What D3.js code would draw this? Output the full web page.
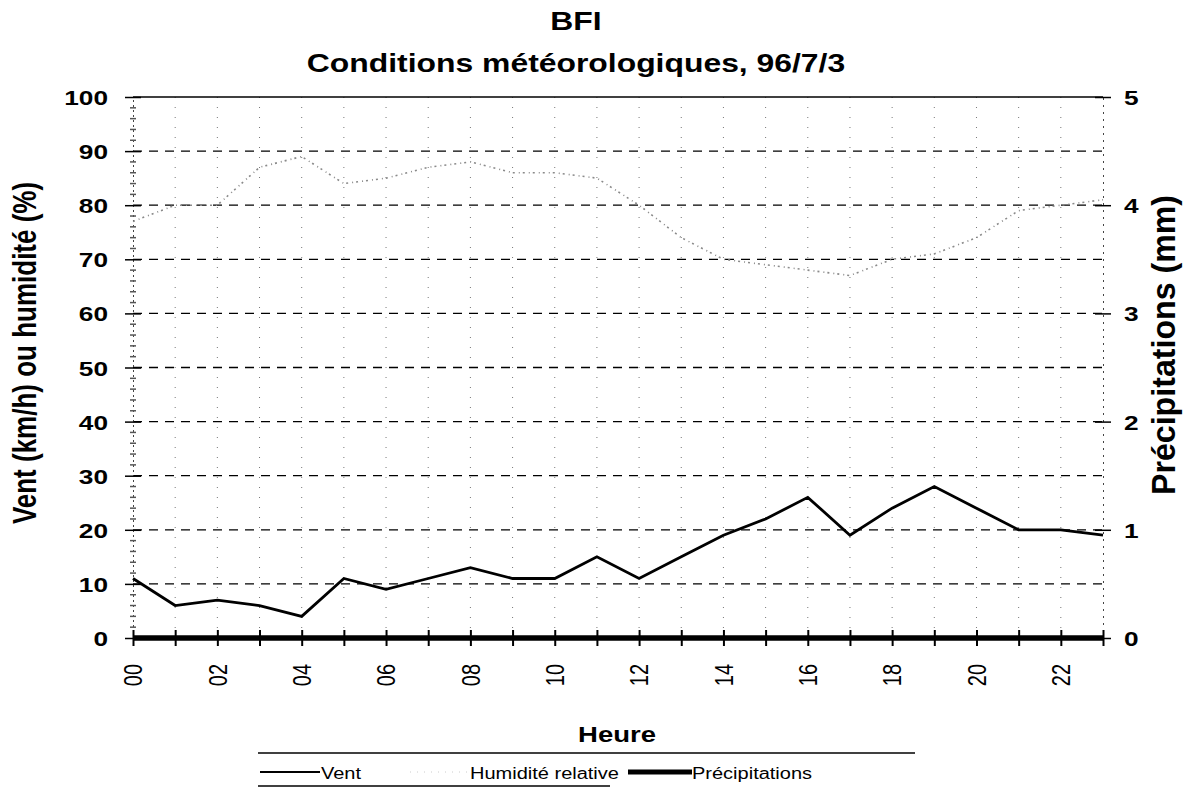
<!DOCTYPE html>
<html><head><meta charset="utf-8">
<script src="https://cdn.jsdelivr.net/npm/d3@7"></script>
<style>body{margin:0;background:#fff}svg{display:block;font-family:"Liberation Sans",Arial,sans-serif}</style>
</head><body><svg id="c" width="1192" height="787"></svg>
<script>
const hours = d3.range(0,24);
const hourLabels = ["00","02","04","06","08","10","12","14","16","18","20","22"];
const vent = [11,6,7,6,4,11,9,11,13,11,11,15,11,15,19,22,26,19,24,28,24,20,20,19];
const humidite = [77,80,80,87,89,84,85,87,88,86,86,85,80,74,70,69,68,67,70,71,74,79,80,81];
const precip = [0,0,0,0,0,0,0,0,0,0,0,0,0,0,0,0,0,0,0,0,0,0,0,0];
const leftTicks = [0,10,20,30,40,50,60,70,80,90,100];
const rightTicks = [0,1,2,3,4,5];

const SX = 1.25; // horizontal stretch of the scanned original
const svg = d3.select("#c");
const L=133,R=1103,T=97,B=638;
const x = d3.scaleLinear().domain([0,23]).range([L,R]);
const y = d3.scaleLinear().domain([0,100]).range([B,T]);
const y2 = d3.scaleLinear().domain([0,5]).range([B,T]);

function txt(g,px,py,str,size,opts={}){
  const t = g.append("text")
    .attr("transform",`translate(${px},${py}) scale(${SX},1)` + (opts.rot?` rotate(${opts.rot})`:""))
    .attr("font-size",size).attr("text-anchor",opts.anchor||"middle")
    .attr("font-weight",opts.bold===false?"normal":"bold").attr("fill","#000").text(str);
  if(opts.dy) t.attr("dy",opts.dy);
  if(opts.len) t.attr("textLength",opts.len).attr("lengthAdjust","spacingAndGlyphs");
  return t;
}

// vertical dotted grid
svg.append("g").selectAll("line").data(hours.slice(1,23)).join("line")
  .attr("x1",d=>x(d)).attr("x2",d=>x(d)).attr("y1",T).attr("y2",B)
  .attr("stroke","#777").attr("stroke-width",1).attr("stroke-dasharray","1,9");
// horizontal dashed grid
svg.append("g").selectAll("line").data(leftTicks.filter(d=>d>0&&d<100)).join("line")
  .attr("x1",L).attr("x2",R).attr("y1",d=>y(d)).attr("y2",d=>y(d))
  .attr("stroke","#000").attr("stroke-width",1.3).attr("stroke-dasharray","9,7");
// top line
svg.append("line").attr("x1",L).attr("x2",R).attr("y1",T).attr("y2",T).attr("stroke","#000").attr("stroke-width",1.6);

// left axis
const la = svg.append("g").attr("transform",`translate(${L},0)`)
  .call(d3.axisLeft(y).tickValues(leftTicks).tickSize(8).tickFormat(""));
la.select(".domain").attr("stroke","#444").attr("stroke-dasharray","2,3");
la.selectAll(".tick line").attr("x2",-8).attr("x1",8).attr("stroke-width",1.5);
la.selectAll(".tick").each(function(d){ txt(d3.select(this),-25,0,String(d),21,{anchor:"end",dy:"0.36em"}); });
// minor ticks
svg.append("g").selectAll("line").data(d3.range(2,100,2).filter(d=>d%10)).join("line")
  .attr("x1",L-3).attr("x2",L+3).attr("y1",d=>y(d)).attr("y2",d=>y(d)).attr("stroke","#555").attr("stroke-width",1.5);

// right axis
const ra = svg.append("g").attr("transform",`translate(${R},0)`)
  .call(d3.axisRight(y2).tickValues(rightTicks).tickSize(8).tickFormat(""));
ra.select(".domain").attr("stroke","#444").attr("stroke-dasharray","2,5");
ra.selectAll(".tick line").attr("x1",-8).attr("x2",8).attr("stroke-width",1.5);
ra.selectAll(".tick").each(function(d){ txt(d3.select(this),21,0,String(d),21,{anchor:"start",dy:"0.36em"}); });

// x axis
const xa = svg.append("g").attr("transform",`translate(0,${B})`)
  .call(d3.axisBottom(x).tickValues(hours).tickSize(8).tickFormat(""));
xa.select(".domain").remove();
xa.selectAll(".tick line").attr("y1",-8).attr("y2",8).attr("stroke-width",2);
xa.selectAll(".tick").each(function(d){
  if(d%2===0) txt(d3.select(this),0,26,hourLabels[d/2],20,{rot:-90,anchor:"end",dy:"0.35em",bold:false});
});

// humidity
const line = (ys,vals)=>d3.line().x((d,i)=>x(i)).y(d=>ys(d))(vals);
svg.append("path").attr("d",line(y,humidite)).attr("fill","none")
  .attr("stroke","#8a8a8a").attr("stroke-width",1.6).attr("stroke-dasharray","2,4,1,3");
// wind
svg.append("path").attr("d",line(y,vent)).attr("fill","none").attr("stroke","#000").attr("stroke-width",2.8).attr("stroke-linejoin","miter");
// precip
svg.append("path").attr("d",line(y2,precip)).attr("fill","none").attr("stroke","#000").attr("stroke-width",5.5);

// titles
txt(svg,576,30,"BFI",25.5);
txt(svg,576,72,"Conditions météorologiques, 96/7/3",25.5);
txt(svg,36,353,"Vent (km/h) ou humidité (%)",26,{rot:-90});
txt(svg,1175,345,"Précipitations (mm)",26,{rot:-90,len:300});
txt(svg,617,742,"Heure",22);

// legend
const lg = svg.append("g");
lg.append("line").attr("x1",258).attr("x2",915).attr("y1",753).attr("y2",753).attr("stroke","#000").attr("stroke-width",1.5);
lg.append("line").attr("x1",258).attr("x2",610).attr("y1",786).attr("y2",786).attr("stroke","#000").attr("stroke-width",1.5);
lg.append("line").attr("x1",260).attr("x2",320).attr("y1",772).attr("y2",772).attr("stroke","#000").attr("stroke-width",2.2);
txt(lg,321,779,"Vent",16,{anchor:"start",bold:false});
lg.append("line").attr("x1",410).attr("x2",468).attr("y1",772).attr("y2",772).attr("stroke","#ccc").attr("stroke-width",1).attr("stroke-dasharray","1,6");
txt(lg,470,779,"Humidité relative",16,{anchor:"start",bold:false});
lg.append("line").attr("x1",628).attr("x2",692).attr("y1",772).attr("y2",772).attr("stroke","#000").attr("stroke-width",5);
txt(lg,692,779,"Précipitations",16,{anchor:"start",bold:false});
</script></body></html>
